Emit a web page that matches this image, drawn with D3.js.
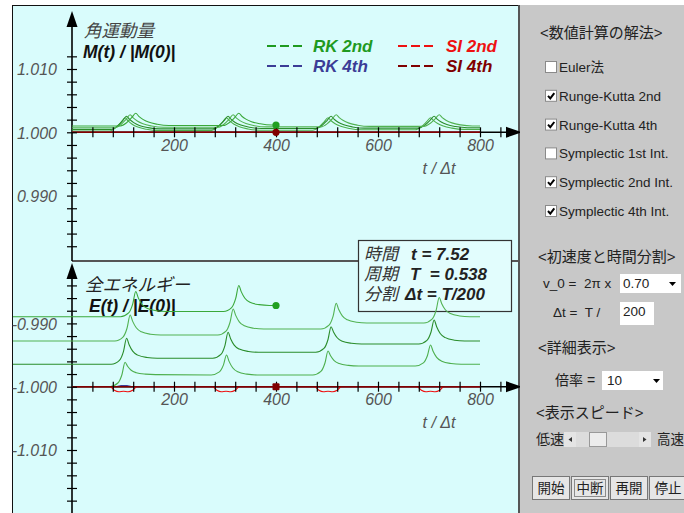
<!DOCTYPE html>
<html><head><meta charset="utf-8">
<script src="https://cdn.jsdelivr.net/npm/d3@7"></script>
<style>body{margin:0;background:#fff}svg{display:block}text{white-space:pre}</style>
</head><body>
<script>
// ---------- data ----------
const xTickLabels = [200, 400, 600, 800];
const xTickValues = [40,80,120,160,200,240,280,320,360,400,440,480,520,560,600,640,680,720,760,800,840];
const topYTickLabels = [1.010, 1.000, 0.990];
const botYTickLabels = [-0.990, -1.000, -1.010];
const topYTickValues = [1.012,1.010,1.008,1.006,1.004,1.002,1.000,0.998,0.996,0.994,0.992,0.990,0.988,0.986,0.984,0.982];
const botYTickValues = [-0.984,-0.986,-0.988,-0.990,-0.992,-0.994,-0.996,-0.998,-1.000,-1.002,-1.004,-1.006,-1.008,-1.010,-1.012,-1.014,-1.016,-1.018];
const legendNames = ['RK 2nd', 'RK 4th', 'SI 2nd', 'SI 4th'];
const currentStep = 400;

// angular momentum M(t)/|M(0)| : RK 2nd traces (oldest to current)
const M_trace4 = [[0,1.00021],[74,1.00021],[86,1.00073],[96,1.00156],[104,1.00229],[110,1.00179],[118,1.00128],[129,1.00083],[146,1.00047],[169,1.00027],[273,1.00027],[285,1.00077],[295,1.00158],[303,1.00229],[309,1.00180],[317,1.00131],[328,1.00088],[345,1.00053],[368,1.00033],[472,1.00033],[484,1.00082],[494,1.00161],[502,1.00229],[508,1.00182],[516,1.00135],[527,1.00094],[544,1.00060],[567,1.00041],[673,1.00041],[685,1.00088],[695,1.00163],[703,1.00229],[709,1.00184],[717,1.00138],[728,1.00098],[745,1.00066],[768,1.00047],[800,1.00047]];
const M_trace3 = [[0,1.00047],[77,1.00047],[89,1.00099],[99,1.00181],[107,1.00253],[113,1.00203],[121,1.00153],[132,1.00109],[149,1.00074],[172,1.00054],[276,1.00054],[288,1.00103],[298,1.00183],[306,1.00253],[312,1.00205],[320,1.00156],[331,1.00114],[348,1.00079],[371,1.00060],[478,1.00060],[490,1.00108],[500,1.00185],[508,1.00253],[514,1.00206],[522,1.00160],[533,1.00119],[550,1.00085],[573,1.00066],[680,1.00066],[692,1.00113],[702,1.00188],[710,1.00253],[716,1.00208],[724,1.00163],[735,1.00123],[752,1.00091],[775,1.00073],[800,1.00073]];
const M_trace2 = [[0,1.00073],[84,1.00073],[96,1.00124],[106,1.00205],[114,1.00277],[120,1.00227],[128,1.00178],[139,1.00134],[156,1.00099],[179,1.00079],[286,1.00079],[298,1.00128],[308,1.00207],[316,1.00277],[322,1.00229],[330,1.00181],[341,1.00139],[358,1.00104],[381,1.00085],[488,1.00085],[500,1.00133],[510,1.00210],[518,1.00277],[524,1.00231],[532,1.00185],[543,1.00145],[560,1.00112],[583,1.00093],[690,1.00093],[702,1.00139],[712,1.00212],[720,1.00277],[726,1.00232],[734,1.00188],[745,1.00149],[762,1.00117],[785,1.00100],[800,1.00100]];
const M_trace1 = [[0,1.00100],[95,1.00100],[107,1.00150],[117,1.00230],[125,1.00300],[131,1.00252],[139,1.00204],[150,1.00161],[167,1.00127],[190,1.00107],[297,1.00107],[309,1.00156],[319,1.00233],[327,1.00300],[333,1.00254],[341,1.00208],[352,1.00167],[369,1.00134],[392,1.00115],[400,1.00115]];
const M_rk4 = [[0,1.0],[800,1.0]];
const M_si2 = [[0,1.0],[800,1.0]];
const M_si4 = [[0,1.0],[800,1.0]];

// total energy E(t)/|E(0)|
const E_trace4 = [[0,-1.00000],[74,-1.00000],[90,-0.99942],[98,-0.99807],[104,-0.99614],[109,-0.99677],[116,-0.99740],[126,-0.99779],[144,-0.99802],[164,-0.99810],[273,-0.99814],[289,-0.99766],[297,-0.99656],[303,-0.99499],[308,-0.99600],[315,-0.99701],[325,-0.99765],[343,-0.99802],[363,-0.99815],[472,-0.99815],[488,-0.99758],[496,-0.99626],[502,-0.99436],[507,-0.99512],[514,-0.99588],[524,-0.99635],[542,-0.99663],[562,-0.99673],[673,-0.99673],[689,-0.99623],[697,-0.99507],[703,-0.99341],[708,-0.99439],[715,-0.99536],[725,-0.99597],[743,-0.99634],[763,-0.99646],[800,-0.99646]];
const E_trace3 = [[-118,-0.99646],[77,-0.99646],[93,-0.99584],[101,-0.99441],[107,-0.99235],[112,-0.99336],[119,-0.99438],[129,-0.99501],[147,-0.99539],[167,-0.99551],[276,-0.99551],[292,-0.99490],[300,-0.99346],[306,-0.99140],[311,-0.99242],[318,-0.99343],[328,-0.99406],[346,-0.99444],[366,-0.99456],[478,-0.99456],[494,-0.99396],[502,-0.99254],[508,-0.99052],[513,-0.99140],[520,-0.99227],[530,-0.99282],[548,-0.99314],[568,-0.99325],[680,-0.99325],[696,-0.99268],[704,-0.99136],[710,-0.98946],[715,-0.99052],[722,-0.99159],[732,-0.99225],[750,-0.99265],[770,-0.99278],[800,-0.99278]];
const E_trace2 = [[-118,-0.99278],[84,-0.99278],[100,-0.99216],[108,-0.99073],[114,-0.98867],[119,-0.98968],[126,-0.99069],[136,-0.99133],[154,-0.99171],[174,-0.99183],[286,-0.99183],[302,-0.99122],[310,-0.98978],[316,-0.98772],[321,-0.98873],[328,-0.98975],[338,-0.99038],[356,-0.99076],[376,-0.99088],[488,-0.99088],[504,-0.99027],[512,-0.98885],[518,-0.98682],[523,-0.98782],[530,-0.98882],[540,-0.98944],[558,-0.98981],[578,-0.98994],[690,-0.98994],[706,-0.98933],[714,-0.98792],[720,-0.98591],[725,-0.98688],[732,-0.98785],[742,-0.98845],[760,-0.98882],[780,-0.98894],[800,-0.98894]];
const E_trace1 = [[-118,-0.98894],[95,-0.98894],[111,-0.98834],[119,-0.98695],[125,-0.98496],[130,-0.98597],[137,-0.98698],[147,-0.98761],[165,-0.98799],[185,-0.98812],[297,-0.98812],[313,-0.98750],[321,-0.98606],[327,-0.98401],[332,-0.98502],[339,-0.98603],[349,-0.98667],[367,-0.98704],[387,-0.98717],[400,-0.98717]];
const E_rk4 = [[0,-1.0],[88,-1.0],[96,-0.99985],[108,-0.99985],[116,-1.0],[800,-1.0]];
const E_si2 = [[0,-1.0],[75,-1.0],[83,-1.00055],[92,-1.00080],[101,-1.00072],[110,-1.00080],[119,-1.00055],[127,-1.0],
  [276,-1.0],[284,-1.00055],[293,-1.00080],[302,-1.00072],[311,-1.00080],[320,-1.00055],[328,-1.0],
  [476,-1.0],[484,-1.00055],[493,-1.00080],[502,-1.00072],[511,-1.00080],[520,-1.00055],[528,-1.0],
  [677,-1.0],[685,-1.00055],[694,-1.00080],[703,-1.00072],[712,-1.00080],[721,-1.00055],[729,-1.0],[800,-1.0]];
const E_si4 = [[0,-1.0],[800,-1.0]];

const infoLabels = ['時間', '周期', '分割'];
const infoValues = ['t = 7.52', 'T  = 0.538', 'Δt = T/200'];
const methods = ['Euler法', 'Runge-Kutta 2nd', 'Runge-Kutta 4th', 'Symplectic 1st Int.', 'Symplectic 2nd Int.', 'Symplectic 4th Int.'];
const methodChecked = [false, true, true, false, true, true];
const buttons = ['開始', '中断', '再開', '停止'];

// ---------- drawing ----------
const W = 684, H = 513;
const LAT = "'Liberation Sans', Arial, 'Noto Sans CJK JP', sans-serif";
const BG = '#d9fcfc';
const C_RK2 = '#1f9a1f', C_RK4 = '#3c3c96', C_SI2 = '#ee1111', C_SI4 = '#800000';
const greens = ['#4daf4d', '#2a8c2a', '#52b252', '#3aa83a'];

const svg = d3.select('body').append('svg').attr('width', W).attr('height', H);
svg.append('rect').attr('width', W).attr('height', H).attr('fill', '#fff');
// canvas
svg.append('rect').attr('x', 12.5).attr('y', 5.5).attr('width', 506).attr('height', 510)
  .attr('fill', BG).attr('stroke', '#111').attr('stroke-width', 1);
svg.append('line').attr('x1', 519).attr('x2', 519).attr('y1', 5).attr('y2', H).attr('stroke', '#555').attr('stroke-width', 2);

const defs = svg.append('defs');
defs.append('clipPath').attr('id', 'cv').append('rect').attr('x', 13).attr('y', 6).attr('width', 505).attr('height', 510);

const x = d3.scaleLinear().domain([0, 800]).range([72, 480]);
const yT = d3.scaleLinear().domain([1.000, 1.010]).range([132.3, 69.0]);
const yB = d3.scaleLinear().domain([-1.000, -0.990]).range([386.7, 323.4]);

// divider
svg.append('line').attr('x1', 72).attr('x2', 518).attr('y1', 261).attr('y2', 261).attr('stroke', '#555').attr('stroke-width', 2);

const axG = svg.append('g');
function axisLines(y0, yTop, yBottom) {
  axG.append('line').attr('x1', 72).attr('x2', 510).attr('y1', y0).attr('y2', y0).attr('stroke', '#000').attr('stroke-width', 1.4);
  axG.append('line').attr('x1', 72).attr('x2', 72).attr('y1', yTop + 8).attr('y2', yBottom).attr('stroke', '#000').attr('stroke-width', 1.6);
  axG.append('path').attr('d', `M72,${yTop} L66.5,${yTop + 16} L77.5,${yTop + 16} Z`).attr('fill', '#000');
  axG.append('path').attr('d', `M522,${y0} L506,${y0 - 5.5} L506,${y0 + 5.5} Z`).attr('fill', '#000');
}
axisLines(yT(1.0), 11, 261);
axisLines(yB(-1.0), 263, H);

// titles & labels
const txt = svg.append('g').attr('font-family', LAT);
function tickLabels(scale, vals, y0) {
  const g = svg.append('g').attr('transform', `translate(0,${y0 + 7})`)
    .call(d3.axisBottom(x).tickValues(xTickLabels).tickSize(0).tickPadding(0).tickFormat(d3.format('d')));
  g.select('.domain').remove();
  g.selectAll('text').attr('font-family', LAT).attr('font-size', 16).attr('font-style', 'italic').attr('fill', '#555').attr('dy', '0.71em');
  const gy = svg.append('g').attr('transform', 'translate(57,0)')
    .call(d3.axisLeft(scale).tickValues(vals).tickSize(0).tickPadding(0).tickFormat(d3.format('.3f')));
  gy.select('.domain').remove();
  gy.selectAll('text').attr('font-family', LAT).attr('font-size', 16).attr('font-style', 'italic').attr('fill', '#555').attr('dy', '0.36em')
    .text(d => d3.format('.3f')(d).replace('−', '-'));
  txt.append('text').attr('x', 439).attr('y', y0 + 41.5).attr('text-anchor', 'middle').attr('font-size', 16)
    .attr('font-style', 'italic').attr('fill', '#555').text('t / Δt');
}
tickLabels(yT, topYTickLabels, yT(1.0));
tickLabels(yB, botYTickLabels, yB(-1.0));

txt.append('text').attr('x', 84).attr('y', 37).attr('font-size', 17.5).attr('font-style', 'italic').attr('fill', '#444').text('角運動量');
txt.append('text').attr('x', 83).attr('y', 58).attr('font-size', 17.5).attr('font-style', 'italic').attr('font-weight', 'bold').attr('fill', '#111').text('M(t) / |M(0)|');
txt.append('text').attr('x', 85).attr('y', 291).attr('font-size', 17.5).attr('font-style', 'italic').attr('fill', '#222').text('全エネルギー');
txt.append('text').attr('x', 89).attr('y', 312).attr('font-size', 17.5).attr('font-style', 'italic').attr('font-weight', 'bold').attr('fill', '#111').text('E(t) / |E(0)|');

// legend
const legPos = [[267, 46, 313, 52, C_RK2], [267, 66, 313, 72, C_RK4], [398, 46, 446, 52, C_SI2], [398, 66, 446, 72, C_SI4]];
legendNames.forEach((n, i) => {
  const p = legPos[i];
  svg.append('line').attr('x1', p[0]).attr('x2', p[0] + 38).attr('y1', p[1]).attr('y2', p[1])
    .attr('stroke', p[4]).attr('stroke-width', 2).attr('stroke-dasharray', '9,4');
  txt.append('text').attr('x', p[2]).attr('y', p[3]).attr('font-size', 17).attr('font-style', 'italic')
    .attr('font-weight', 'bold').attr('fill', p[4]).text(n);
});

// info box (drawn after the other labels so its text is on top of its fill)
const infoG = svg.append('g').attr('font-family', LAT);
infoG.append('rect').attr('x', 358.5).attr('y', 240.5).attr('width', 153).attr('height', 71)
  .attr('fill', '#e2fdfd').attr('stroke', '#333').attr('stroke-width', 1.2);
const infoX = [411, 410, 405];
infoLabels.forEach((l, i) => {
  const t = infoG.append('text').attr('y', 260 + i * 20).attr('font-size', 17).attr('font-style', 'italic').attr('fill', '#333');
  t.append('tspan').attr('x', 364).text(l);
  t.append('tspan').attr('x', infoX[i]).attr('font-weight', 'bold').attr('fill', '#222').text(infoValues[i]);
});

// curves
const curveG = svg.append('g').attr('clip-path', 'url(#cv)');
const lineT = d3.line().x(d => x(d[0])).y(d => yT(d[1])).curve(d3.curveMonotoneX);
const lineB = d3.line().x(d => x(d[0])).y(d => yB(d[1])).curve(d3.curveMonotoneX);
[M_trace4, M_trace3, M_trace2, M_trace1].forEach((s, i) =>
  curveG.append('path').attr('d', lineT(s)).attr('fill', 'none').attr('stroke', greens[i]).attr('stroke-width', 1.1));
[E_trace4, E_trace3, E_trace2, E_trace1].forEach((s, i) =>
  curveG.append('path').attr('d', lineB(s)).attr('fill', 'none').attr('stroke', greens[i]).attr('stroke-width', 1.1));
curveG.append('path').attr('d', lineT(M_rk4)).attr('fill', 'none').attr('stroke', C_RK4).attr('stroke-width', 1.3);
curveG.append('path').attr('d', lineB(E_rk4)).attr('fill', 'none').attr('stroke', C_RK4).attr('stroke-width', 1.3);
curveG.append('path').attr('d', lineT(M_si2)).attr('fill', 'none').attr('stroke', C_SI2).attr('stroke-width', 1.3);
curveG.append('path').attr('d', lineB(E_si2)).attr('fill', 'none').attr('stroke', C_SI2).attr('stroke-width', 1.2);
curveG.append('path').attr('d', lineT(M_si4)).attr('fill', 'none').attr('stroke', C_SI4).attr('stroke-width', 1.4);
curveG.append('path').attr('d', lineB(E_si4)).attr('fill', 'none').attr('stroke', C_SI4).attr('stroke-width', 1.4);

// ticks (crosses)
function crossTicks(scale, vals, y0) {
  const gx = svg.append('g').attr('transform', `translate(0,${y0 - 5})`)
    .call(d3.axisBottom(x).tickValues(xTickValues).tickSize(10).tickFormat(''));
  gx.select('.domain').remove();
  gx.selectAll('line').attr('stroke', '#000').attr('stroke-width', 1.2);
  const gy = svg.append('g').attr('transform', 'translate(77,0)')
    .call(d3.axisLeft(scale).tickValues(vals).tickSize(10).tickFormat(''));
  gy.select('.domain').remove();
  gy.selectAll('line').attr('stroke', '#000').attr('stroke-width', 1.2);
}
crossTicks(yT, topYTickValues, yT(1.0));
crossTicks(yB, botYTickValues, yB(-1.0));

// current markers
const lastM = M_trace1[M_trace1.length - 1], lastE = E_trace1[E_trace1.length - 1];
svg.append('circle').attr('cx', x(lastM[0])).attr('cy', yT(lastM[1])).attr('r', 3.6).attr('fill', '#22a022');
svg.append('circle').attr('cx', x(lastE[0])).attr('cy', yB(lastE[1])).attr('r', 3.6).attr('fill', '#22a022');
svg.append('circle').attr('cx', x(currentStep)).attr('cy', yT(1.0)).attr('r', 3.6).attr('fill', C_SI4);
svg.append('rect').attr('x', x(currentStep) - 3.5).attr('y', yB(-1.0) - 3.5).attr('width', 7).attr('height', 7).attr('rx', 1).attr('fill', C_SI4);

// ---------- right panel ----------
const P = svg.append('g').attr('font-family', LAT).attr('fill', '#222');
P.append('rect').attr('x', 520).attr('y', 5).attr('width', 164).attr('height', H - 5).attr('fill', '#c8c8c8');
P.append('text').attr('x', 540).attr('y', 38).attr('font-size', 15).text('<数値計算の解法>');
methods.forEach((m, i) => {
  const cy = 67 + i * 28.8;
  P.append('rect').attr('x', 545.5).attr('y', cy - 5.5).attr('width', 11).attr('height', 11)
    .attr('fill', '#fff').attr('stroke', '#8a8a8a').attr('stroke-width', 1);
  if (methodChecked[i]) {
    P.append('path').attr('d', `M548,${cy} L550.3,${cy + 2.6} L554.3,${cy - 2.6}`)
      .attr('fill', 'none').attr('stroke', '#000').attr('stroke-width', 2);
  }
  P.append('text').attr('x', 559).attr('y', cy + 5).attr('font-size', 13.5).text(m);
});
P.append('text').attr('x', 538).attr('y', 262).attr('font-size', 15).text('<初速度と時間分割>');
P.append('text').attr('x', 543).attr('y', 288).attr('font-size', 13.5).text('v_0 =  2π x');
P.append('rect').attr('x', 620).attr('y', 274).attr('width', 61).attr('height', 19).attr('fill', '#fff');
P.append('text').attr('x', 623).attr('y', 288).attr('font-size', 13.5).text('0.70');
P.append('path').attr('d', 'M669,282 L676,282 L672.5,286 Z').attr('fill', '#000');
P.append('text').attr('x', 553).attr('y', 317).attr('font-size', 13.5).text('Δt =  T /');
P.append('rect').attr('x', 620).attr('y', 302).attr('width', 34).attr('height', 23).attr('fill', '#fff');
P.append('text').attr('x', 623).attr('y', 316).attr('font-size', 13.5).text('200');
P.append('text').attr('x', 538).attr('y', 353).attr('font-size', 15).text('<詳細表示>');
P.append('text').attr('x', 555).attr('y', 385).attr('font-size', 14).text('倍率 = ');
P.append('rect').attr('x', 602).attr('y', 371).attr('width', 61).attr('height', 19).attr('fill', '#fff');
P.append('text').attr('x', 607).attr('y', 385).attr('font-size', 13.5).text('10');
P.append('path').attr('d', 'M653,379 L660,379 L656.5,383 Z').attr('fill', '#000');
P.append('text').attr('x', 536).attr('y', 418).attr('font-size', 15).text('<表示スピード>');
P.append('text').attr('x', 536).attr('y', 444).attr('font-size', 14).text('低速');
P.append('rect').attr('x', 564).attr('y', 432).attr('width', 87).attr('height', 15).attr('fill', '#dcdcdc');
P.append('rect').attr('x', 564).attr('y', 432).attr('width', 12).attr('height', 15).attr('fill', '#e4e4e4');
P.append('path').attr('d', 'M572,437 L568.5,439.5 L572,442 Z').attr('fill', '#333');
P.append('rect').attr('x', 589.5).attr('y', 432.5).attr('width', 17).attr('height', 14).attr('fill', '#ececec').attr('stroke', '#999');
P.append('rect').attr('x', 639).attr('y', 432).attr('width', 12).attr('height', 15).attr('fill', '#e4e4e4');
P.append('path').attr('d', 'M643,437 L646.5,439.5 L643,442 Z').attr('fill', '#333');
P.append('text').attr('x', 657).attr('y', 444).attr('font-size', 13.5).text('高速');
const bx = [532, 571, 610, 649];
buttons.forEach((b, i) => {
  P.append('rect').attr('x', bx[i] + 0.5).attr('y', 476.5).attr('width', 37).attr('height', 23)
    .attr('fill', '#e6e6e6').attr('stroke', '#777').attr('stroke-width', 1);
  if (i === 1) P.append('rect').attr('x', bx[i] + 3.5).attr('y', 479.5).attr('width', 31).attr('height', 17)
    .attr('fill', 'none').attr('stroke', '#333').attr('stroke-dasharray', '1,1');
  P.append('text').attr('x', bx[i] + 19).attr('y', 493).attr('text-anchor', 'middle').attr('font-size', 13.5).text(b);
});
</script>
</body></html>
